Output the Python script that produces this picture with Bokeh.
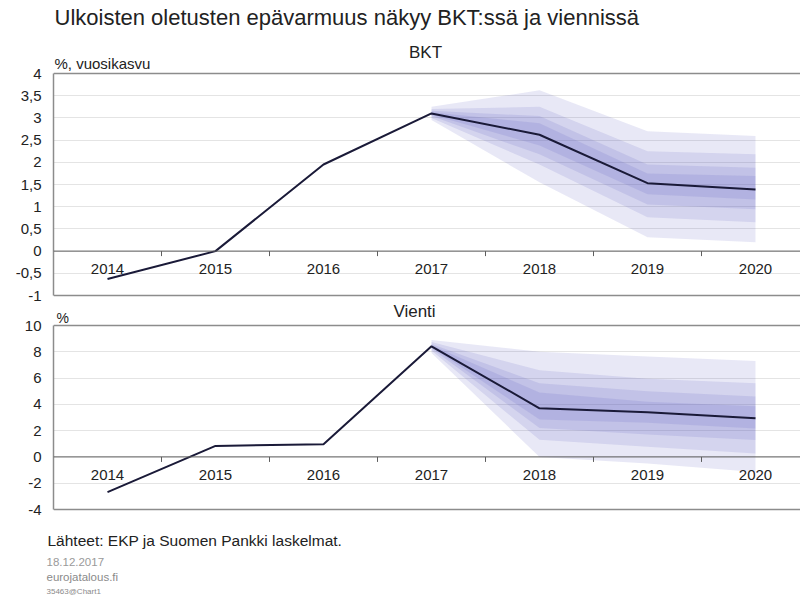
from bokeh.plotting import figure
from bokeh.layouts import column
from bokeh.models import FixedTicker, Span, Label, Range1d
from bokeh.embed import file_html
from bokeh.resources import INLINE
from bokeh.core.properties import value

FONT = "Liberation Sans"

# ---------------- data ----------------
years = [2014, 2015, 2016, 2017, 2018, 2019, 2020]
year_labels = ["2014", "2015", "2016", "2017", "2018", "2019", "2020"]
category_edges = [2014.5, 2015.5, 2016.5, 2017.5, 2018.5, 2019.5]

bkt = [-0.63, 0.0, 1.95, 3.10, 2.62, 1.53, 1.39]
vienti = [-2.68, 0.84, 0.97, 8.42, 3.70, 3.40, 2.94]

fan_years = [2017, 2018, 2019, 2020]
# uncertainty bands, outermost first
bkt_upper = [
    [3.25, 3.62, 2.70, 2.59],
    [3.20, 3.25, 2.25, 2.18],
    [3.16, 3.04, 1.95, 1.88],
    [3.13, 2.88, 1.75, 1.69],
]
bkt_lower = [
    [2.95, 1.55, 0.31, 0.20],
    [3.00, 1.95, 0.76, 0.65],
    [3.04, 2.18, 1.05, 0.94],
    [3.07, 2.38, 1.28, 1.16],
]
vienti_upper = [
    [8.90, 8.00, 7.65, 7.30],
    [8.75, 6.60, 5.95, 5.60],
    [8.60, 5.60, 5.00, 4.60],
    [8.50, 4.90, 4.20, 3.85],
]
vienti_lower = [
    [7.90, 0.00, -0.50, -1.15],
    [8.10, 1.30, 0.77, 0.26],
    [8.25, 2.20, 1.70, 1.28],
    [8.35, 2.85, 2.60, 2.17],
]

bkt_ticks = [-1, -0.5, 0, 0.5, 1, 1.5, 2, 2.5, 3, 3.5, 4]
bkt_tick_labels = ["-1", "-0,5", "0", "0,5", "1", "1,5", "2", "2,5", "3", "3,5", "4"]
vienti_ticks = [-4, -2, 0, 2, 4, 6, 8, 10]
vienti_tick_labels = ["-4", "-2", "0", "2", "4", "6", "8", "10"]

main_title = "Ulkoisten oletusten epävarmuus näkyy BKT:ssä ja viennissä"
bkt_title = "BKT"
bkt_unit = "%, vuosikasvu"
vienti_title = "Vienti"
vienti_unit = "%"
source_text = "Lähteet: EKP ja Suomen Pankki laskelmat."
date_text = "18.12.2017"
site_text = "eurojatalous.fi"
code_text = "35463@Chart1"

# ---------------- layout (pixels) ----------------
W = 800
LEFT = 53                 # frame left edge
PX_PER_YEAR = 108.0
X0 = 2013.5
X1 = X0 + (W - LEFT) / PX_PER_YEAR

FAN_COLOR = "#5050bb"
LINE_COLOR = "#1a1a38"
BORDER = "#8c8c8c"
TEXT = "#222222"


def make_panel(height, box_top, box_bottom, yr, ticks, tick_labels, line, uppers, lowers):
    k = (box_bottom - box_top) / (yr[1] - yr[0])
    y_hi = yr[1] + box_top / k
    y_lo = yr[0] - (height - box_bottom) / k
    p = figure(width=W, height=height, x_range=Range1d(X0, X1), y_range=Range1d(y_lo, y_hi),
               output_backend="svg", toolbar_location=None, x_axis_location=None,
               min_border_left=LEFT, min_border_right=0, min_border_top=0,
               min_border_bottom=0)
    p.outline_line_color = None
    p.background_fill_color = "white"
    p.border_fill_color = "white"
    p.xgrid.visible = False

    ticker = FixedTicker(ticks=ticks)
    ax = p.yaxis[0]
    ax.ticker = ticker
    ax.bounds = (yr[0], yr[1])
    ax.major_label_overrides = {t: l for t, l in zip(ticks, tick_labels)}
    ax.axis_line_color = BORDER
    ax.axis_line_width = 1.5
    ax.major_tick_line_color = None
    ax.minor_tick_line_color = None
    ax.major_tick_out = 0
    ax.major_tick_in = 0
    ax.major_label_standoff = 12
    ax.major_label_text_font = FONT
    ax.major_label_text_font_size = "15px"
    ax.major_label_text_color = TEXT
    p.ygrid.ticker = ticker
    p.ygrid.grid_line_color = "#e4e4e4"

    for lo, up in zip(lowers, uppers):
        p.varea(x=fan_years, y1=lo, y2=up, fill_color=FAN_COLOR, fill_alpha=0.13)

    p.line(years, line, line_color=LINE_COLOR, line_width=2)

    p.add_layout(Span(location=0, dimension="width", line_color="#5e5e5e", line_width=1))
    p.add_layout(Span(location=yr[1], dimension="width", line_color=BORDER, line_width=1.5))
    p.add_layout(Span(location=yr[0], dimension="width", line_color=BORDER, line_width=1.5))

    tick_len = 5 / k
    p.segment(x0=category_edges, y0=[0] * len(category_edges), x1=category_edges,
              y1=[-tick_len] * len(category_edges), line_color="#5e5e5e", line_width=1)

    p.text(x=years, y=[0] * len(years), text=year_labels, y_offset=18,
           text_align="center", text_baseline="middle", text_font=value(FONT),
           text_font_size="15px", text_color=TEXT)

    def put(px, py, text, size, color=TEXT, align="left"):
        # px, py: pixel position inside this figure -> data coordinates
        x = X0 + (px - LEFT) / PX_PER_YEAR
        y = y_hi - py / k
        p.add_layout(Label(x=x, y=y, text=text, text_font=FONT, text_font_size=size,
                           text_color=color, text_align=align, text_baseline="middle"))
    return p, put


# top panel: figure y 0..302, box 73..295
p1, put1 = make_panel(302, 73, 295, (-1, 4), bkt_ticks, bkt_tick_labels, bkt,
                      bkt_upper, bkt_lower)
put1(54, 17, main_title, "22px")
put1(425, 51.5, bkt_title, "17px", align="center")
put1(54, 63, bkt_unit, "15px")

# bottom panel: figure y 302..520, box 325..509 (page)
p2, put2 = make_panel(218, 23, 207, (-4, 10), vienti_ticks, vienti_tick_labels, vienti,
                      vienti_upper, vienti_lower)
put2(414, 9, vienti_title, "17px", align="center")
put2(56, 15, vienti_unit, "14px")

# footer: figure y 520..599, plain pixel frame
p3 = figure(width=W, height=79, x_range=Range1d(0, W), y_range=Range1d(79, 0),
            output_backend="svg", toolbar_location=None, x_axis_location=None,
            y_axis_location=None, min_border=0)
p3.frame_align = False
p3.outline_line_color = None
p3.xgrid.visible = False
p3.ygrid.visible = False
for px, py, txt, size, col in [
    (47, 20, source_text, "15.5px", TEXT),
    (46, 41, date_text, "11.5px", "#9a9a9a"),
    (46, 56, site_text, "11.5px", "#8a8a8a"),
    (46, 71, code_text, "8px", "#8a8a8a"),
]:
    p3.add_layout(Label(x=px, y=py, text=txt, text_font=FONT, text_font_size=size,
                        text_color=col, text_align="left", text_baseline="middle"))

layout = column(p1, p2, p3, spacing=0)
open("out.html", "w").write(file_html(layout, INLINE))
